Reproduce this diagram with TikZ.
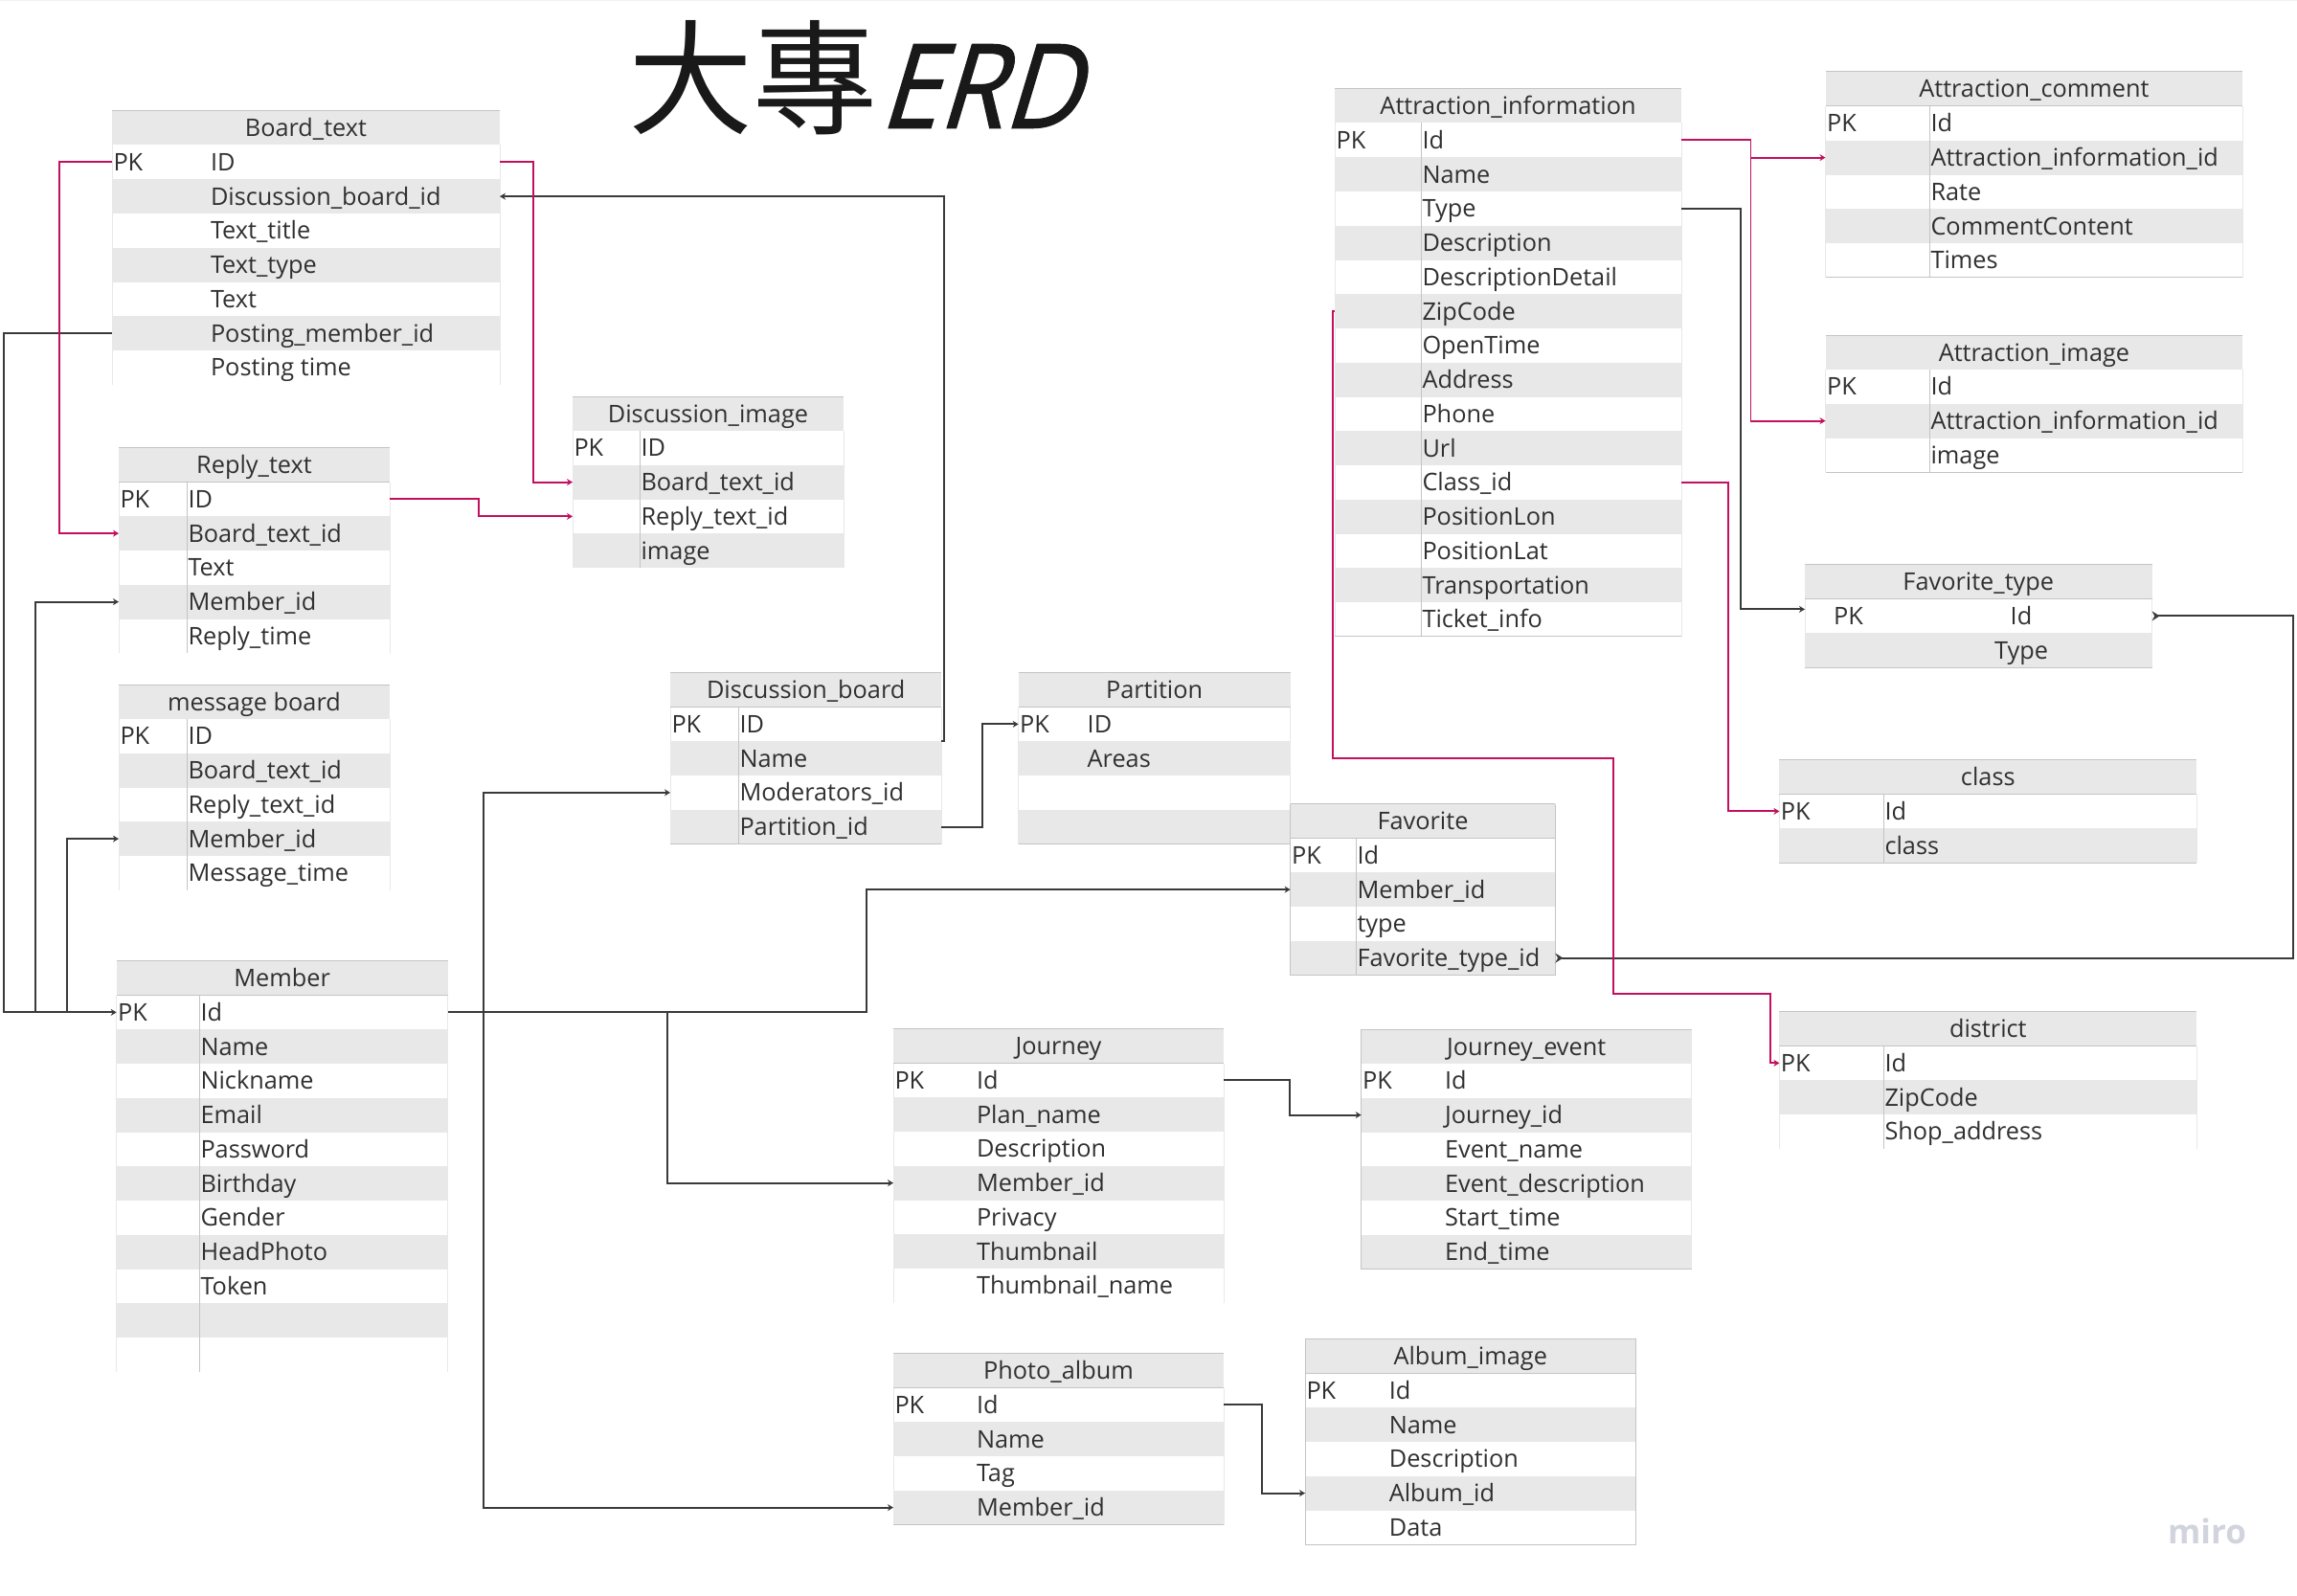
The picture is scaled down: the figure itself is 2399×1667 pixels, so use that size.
\documentclass[tikz,border=0pt]{standalone}
\usepackage{fontspec}
\usetikzlibrary{arrows.meta}
\setmainfont{Open Sans}
\newfontfamily\cjkfont{Noto Sans CJK TC}
\newfontfamily\erdfont[FakeSlant=0.3,FakeStretch=.9,FakeBold=1.2]{Open Sans}
\definecolor{rowgray}{HTML}{E8E8E8}
\definecolor{gridgray}{HTML}{C4C4C4}
\definecolor{inkgray}{HTML}{303030}
\definecolor{linkpink}{HTML}{C2105F}
\definecolor{linkdark}{HTML}{3A3A3A}
\definecolor{miroc}{HTML}{D2D4DD}
\tikzset{
  cellbox/.style={inner sep=0pt,outer sep=0pt,anchor=north west},
  celltxt/.style={inner sep=0pt,outer sep=0pt,text height=19pt,text depth=6pt,font=\fontsize{25.3}{30}\selectfont,text=inkgray},
  fieldtxt/.style={anchor=west},
  pktxt/.style={anchor=west,xshift=1.5pt},
  headtxt/.style={anchor=center},
  pklink/.style={draw=linkpink,line width=1.9pt,-{Stealth[length=6pt,width=7pt]}},
  dklink/.style={draw=linkdark,line width=1.9pt,-{Stealth[length=6pt,width=7pt]}},
  dkback/.style={draw=linkdark,line width=1.9pt,{Stealth[reversed,length=8pt,width=10pt]}-{Stealth[reversed,length=8pt,width=10pt]}},
  frameline/.style={draw=gridgray,line width=.9pt},
}
% #1 name, #2 x0, #3 x1, #4 field x, #5 top, #6 title, #7 fields, #8 divider colour, #9 bottom colour
\newcommand{\erdtable}[9]{%
  \pgfmathsetmacro{\tw}{#3-#2}%
  \node[cellbox,fill=rowgray,minimum width=\tw pt,minimum height=36pt] (#1h) at (#2,#5) {};
  \node[celltxt,headtxt,yshift=-2.5pt] (#1t) at (#1h.center) {#6};
  \draw[gridgray,line width=1pt] (#1h.north west) -- (#1h.north east);
  \draw[gridgray,line width=1pt] (#1h.south west) -- (#1h.south east);
  \foreach \fld [count=\i] in {#7}{%
    \pgfmathsetmacro{\rowy}{#5+36+35.75*(\i-1)}%
    \ifodd\i
      \node[cellbox,fill=white,minimum width=\tw pt,minimum height=35.75pt] (#1\i) at (#2,\rowy) {};
    \else
      \node[cellbox,fill=rowgray,minimum width=\tw pt,minimum height=35.75pt] (#1\i) at (#2,\rowy) {};
    \fi
    \node[celltxt,fieldtxt] (#1f\i) at (#4,\rowy+20.4) {\fld};
    \xdef\lastrow{#1\i}%
  }
  \node[celltxt,pktxt,yshift=-2.5pt] (#1pk) at (#1h.south west |- #11.west) {PK};
  \draw[draw=#8,line width=.9pt] (#4-1.5,#5+36) -- (\lastrow.south west -| #4-1.5,0);
  \draw[rowgray,line width=.7pt] (#1h.south west) -- (\lastrow.south west);
  \draw[rowgray,line width=.7pt] (#1h.south east) -- (\lastrow.south east);
  \draw[draw=#9,line width=1pt] (\lastrow.south west) -- (\lastrow.south east);
}
\begin{document}
\begin{tikzpicture}[x=1pt,y=-1pt]
\useasboundingbox (0,0) rectangle (2399,1667);
\fill[white] (0,0) rectangle (2399,1667);
\fill[rowgray!60] (0,0) rectangle (2399,1.5);

\node[inner sep=0pt,text=black!90,font=\cjkfont\fontsize{130}{130}\selectfont] (titlecjk) at (786,81) {大專};
\node[inner sep=0pt,text=black!90,font=\erdfont\fontsize{122}{130}\selectfont] (titleerd) at (1022,90) {ERD};

\erdtable{bt}{117}{522}{220}{115.5}{Board\_text}{ID,Discussion\_board\_id,Text\_title,Text\_type,Text,Posting\_member\_id,Posting time}{none}{none}
\erdtable{di}{598}{881}{669.5}{414}{Discussion\_image}{ID,Board\_text\_id,Reply\_text\_id,image}{gridgray}{none}
\erdtable{rt}{124}{407}{196.5}{467.5}{Reply\_text}{ID,Board\_text\_id,Text,Member\_id,Reply\_time}{gridgray}{none}
\erdtable{mb}{124}{407}{196.5}{715}{message board}{ID,Board\_text\_id,Reply\_text\_id,Member\_id,Message\_time}{gridgray}{none}
\erdtable{m}{121.7}{467.6}{209.5}{1003.5}{Member}{Id,Name,Nickname,Email,Password,Birthday,Gender,HeadPhoto,Token,{},{}}{gridgray}{none}
\erdtable{db}{700}{983.4}{772.5}{702.5}{Discussion\_board}{ID,Name,Moderators\_id,Partition\_id}{gridgray}{gridgray}
\erdtable{par}{1063.7}{1347.6}{1135.7}{702.5}{Partition}{ID,Areas,{},{}}{none}{gridgray}
\erdtable{fav}{1347.6}{1624.4}{1417.5}{839.5}{Favorite}{Id,Member\_id,type,Favorite\_type\_id}{gridgray}{gridgray}
\erdtable{j}{933}{1278}{1020}{1074.5}{Journey}{Id,Plan\_name,Description,Member\_id,Privacy,Thumbnail,Thumbnail\_name}{none}{none}
\erdtable{je}{1421.7}{1766.6}{1509}{1075}{Journey\_event}{Id,Journey\_id,Event\_name,Event\_description,Start\_time,End\_time}{none}{gridgray}
\erdtable{pa}{933}{1278}{1020}{1413.5}{Photo\_album}{Id,Name,Tag,Member\_id}{none}{gridgray}
\erdtable{ai}{1363}{1708.5}{1450.8}{1398.5}{Album\_image}{Id,Name,Description,Album\_id,Data}{none}{gridgray}
\erdtable{ain}{1394.2}{1755.9}{1485.5}{92.5}{Attraction\_information}{Id,Name,Type,Description,DescriptionDetail,ZipCode,OpenTime,Address,Phone,Url,Class\_id,PositionLon,PositionLat,Transportation,Ticket\_info}{gridgray}{gridgray}
\erdtable{ac}{1906.5}{2342.4}{2016.5}{75}{Attraction\_comment}{Id,Attraction\_information\_id,Rate,CommentContent,Times}{gridgray}{gridgray}
\erdtable{aim}{1906.5}{2342.4}{2016.5}{350}{Attraction\_image}{Id,Attraction\_information\_id,image}{gridgray}{gridgray}
\begin{scope}[fieldtxt/.style={anchor=center},pktxt/.style={anchor=west,xshift=30pt}]
\erdtable{ft}{1885}{2247.6}{2111}{589.5}{Favorite\_type}{Id,Type}{none}{gridgray}
\end{scope}
\erdtable{cl}{1858.4}{2294.2}{1968.5}{793.5}{class}{Id,class}{gridgray}{gridgray}
\erdtable{dis}{1858.4}{2294.2}{1968.5}{1056.5}{district}{Id,ZipCode,Shop\_address}{gridgray}{none}

% frames that show in the reference
\draw[frameline] (aih.north west) -- (ai5.south west) (aih.north east) -- (ai5.south east);
\draw[frameline] (favh.north west) -- (fav4.south west) (favh.north east) -- (fav4.south east);
\draw[frameline] (jeh.north west) -- (je6.south west);

\node[inner sep=0pt,anchor=center,text=miroc,font=\fontsize{35}{35}\bfseries\selectfont] (miro) at (2305,1599) {miro};

% dark connectors
\draw[dklink] (bt6.west) -- ++(-113,0) |- (m1.west);
\draw[dklink] ([xshift=-85pt]m1.west) |- (rt4.west);
\draw[dklink] ([xshift=-52pt]m1.west) |- (mb4.west);
\draw[dklink] (m1.east) -- ++(437,0) |- (fav2.west);
\draw[dklink] ([xshift=37.4pt]m1.east) |- (db3.west);
\draw[dklink] ([xshift=37.4pt]m1.east) |- (pa4.west);
\draw[dklink] ([xshift=229pt]m1.east) |- (j4.west);
\draw[dklink] (db1.south east) -- ++(2.3,0) |- (bt2.east);
\draw[dklink] (db4.east) -- ++(42.6,0) |- (par1.west);
\draw[dklink] (j1.east) -- ++(69,0) |- (je2.west);
\draw[dklink] (pa1.east) -- ++(40,0) |- (ai4.west);
\draw[dklink] (ain3.east) -- ++(62,0) |- ([yshift=7pt]ft1.west);
\draw[dkback] (ft1.east) -- ++(147,0) |- (fav4.east);
% pink connectors
\draw[pklink] (bt1.west) -- ++(-55,0) |- (rt2.west);
\draw[pklink] (bt1.east) -- ++(35,0) |- (di2.west);
\draw[pklink] (rt1.east) -- ++(93,0) |- (di3.west);
\draw[pklink] (ain1.east) -- ++(72.6,0) |- (ac2.west);
\draw[pklink] (ain1.east) -- ++(72.6,0) |- (aim2.west);
\draw[pklink] (ain11.east) -- ++(49,0) |- (cl1.west);
\draw[pklink] (ain6.west) -- ++(-2.5,0) -- ++(0,467) -- ++(293.1,0) -- ++(0,246) -- ++(164.2,0) |- (dis1.west);
\end{tikzpicture}
\end{document}
